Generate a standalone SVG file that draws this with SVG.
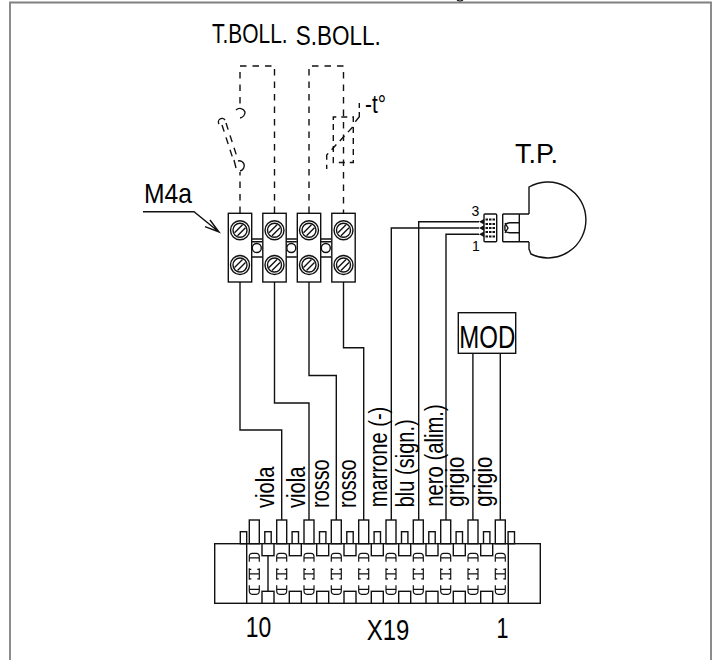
<svg xmlns="http://www.w3.org/2000/svg" width="720" height="660" viewBox="0 0 720 660">
<style>
.l{fill:none;stroke:#111;stroke-width:1.4}
.d{fill:none;stroke:#111;stroke-width:1.4;stroke-dasharray:6.5 6}
.b{fill:#fff;stroke:#111;stroke-width:1.4}
.thin{fill:none;stroke:#111;stroke-width:1.2}
text{font-family:"Liberation Sans",Arial,sans-serif;fill:#000;font-size:28px}
.w{font-size:25px}
.s{font-size:14px}
</style>
<defs>
<g id="screw"><circle r="9.5" class="b"/><circle r="7" class="l"/><path class="l" d="M-5.5,2.5 L2.5,-5.5 M-2.5,5.5 L5.5,-2.5"/></g>
<g id="block"><rect x="-11.7" y="-17" width="23.4" height="68.7" class="b"/><use href="#screw"/><use href="#screw" y="34.7"/></g>
<g id="bridge"><path class="l" d="M-5.5,-4.5 H5.5 M-5.5,-1.8 H5.5 M-5.5,13.5 H5.5"/><circle cy="4.5" r="4.5" class="b"/></g>
<g id="contact"><path class="thin" d="M-5,8.5 V3 Q-5,0 -2,0 H2 Q5,0 5,3 V8.5 M-5,4.5 H5"/><path class="thin" d="M-5,15 V26.5 M5,15 V26.5 M-5,20.5 H5 M-5,16 H-3 M-5,25.5 H-3 M3,16 H5 M3,25.5 H5"/><path class="thin" d="M-5,32 V37.5 Q-5,41 -2,41 H2 Q5,41 5,37.5 V32 M-5,36 H5"/></g>
<rect id="pin" x="-5" y="-23.7" width="10" height="23.7" class="b"/>
<rect id="pinS" x="-3.2" y="-12" width="6.4" height="12" class="b"/>
<rect id="notch" x="-6" width="12" height="12" class="b"/>
</defs>
<rect width="720" height="660" fill="#fff"/>
<path d="M10,660 V2.5 H711 V660" fill="none" stroke="#808080" stroke-width="1.8"/>
<path d="M457,0 Q460,2 463,0" fill="none" stroke="#111" stroke-width="1.2"/>

<g id="connectors">
<path class="l" d="M240,282 V430 H281.7 V520"/>
<path class="l" d="M274.5,282 V403 H309 V520"/>
<path class="l" d="M309,282 V375.5 H336.3 V520"/>
<path class="l" d="M343.5,282 V347.7 H363.7 V520"/>
<path class="l" d="M391.3,520 V228 H479"/>
<path class="l" d="M418.7,520 V221.7 H479"/>
<path class="l" d="M446,520 V234.3 H479"/>
<path class="l" d="M472.9,520 V353.3"/>
<path class="l" d="M500.3,520 V353.3"/>
<path class="d" d="M240,213 V172 M274.5,213 V66 H240 V108"/>
<path class="d" d="M309,213 V66 H343.5 V213"/>
<path class="l" d="M143,211.7 H194 L219,232 M205,226.7 L219,232 L210,220"/>
</g>

<g id="t-boll">
<text transform="translate(212,43) scale(0.748,1)">T.BOLL.</text>
<path class="l" d="M236,110 A5.5,5.5 0 0 1 245,112 A6,6 0 0 1 240,118"/>
<path class="l" d="M240,171 A5.5,5.5 0 0 0 244,164 A5,5 0 0 0 238,161"/>
<path class="d" d="M222,125 L234,162 M226,123 L238,160" style="stroke-dasharray:7 6"/>
<path class="l" d="M219,124 A3,3 0 0 1 225,120 M234,160 L236,168"/>
</g>

<g id="s-boll">
<text transform="translate(295.7,45) scale(0.803,1)">S.BOLL.</text>
<path class="d" d="M333.3,120 V117 H353.3 V162.5 H333.3 V120" style="stroke-dasharray:6 5"/>
<path class="d" d="M352.7,127 L326.7,155 V169" style="stroke-dasharray:7 5"/>
<path class="l" d="M355.3,121.7 L359.3,116.7 V112 M359.3,108 V103"/>
<text x="365" y="113" textLength="21" lengthAdjust="spacingAndGlyphs" style="font-size:26px">-t°</text>
</g>

<g id="m4a">
<text x="144" y="203" textLength="48" lengthAdjust="spacingAndGlyphs">M4a</text>
<use href="#bridge" x="256.8" y="243.5"/>
<use href="#bridge" x="291.3" y="243.5"/>
<use href="#bridge" x="325.8" y="243.5"/>
<use href="#block" x="240" y="230.3"/>
<use href="#block" x="274.5" y="230.3"/>
<use href="#block" x="309" y="230.3"/>
<use href="#block" x="343.5" y="230.3"/>
</g>

<g id="tp">
<text x="515" y="163" textLength="43" lengthAdjust="spacingAndGlyphs">T.P.</text>
<path class="l" d="M529,214 V187 A38,38 0 1 1 531,254 L529,249 V242"/>
<path class="l" d="M502.7,214 H529 M502.7,241.7 H529 M502.7,214 V241.7 M519.3,214 V241.7"/>
<path class="l" d="M519.3,222.7 H510 Q504,223 505,228 Q504,232.5 510,232.7 H519.3 M505,223 L508,228 L505,233"/>
<rect class="b" x="484" y="214" width="12.7" height="27.7" rx="1"/>
<path d="M479,221.7 L484,219 V224.5 Z M479,228 L484,225.3 V230.7 Z M479,234.3 L484,231.6 V237 Z" fill="#111"/>
<path d="M485.5,219.5 H495 M485.5,224 H495 M485.5,228 H495 M485.5,232 H495 M485.5,236.5 H495" stroke="#111" stroke-width="2" stroke-dasharray="2.5 1" fill="none"/>
<text class="s" x="471.5" y="216">3</text>
<text class="s" x="472" y="251">1</text>
</g>

<g id="mod">
<rect class="b" x="458.3" y="312.7" width="57.4" height="40.6"/>
<text transform="translate(459.3,348.3) scale(0.75,1)" style="font-size:32px">MOD</text>
</g>

<g id="x19">
<use href="#pinS" x="243.5" y="543.7"/>
<use href="#pinS" x="268" y="543.7"/><use href="#pinS" x="295.3" y="543.7"/><use href="#pinS" x="322.7" y="543.7"/><use href="#pinS" x="350" y="543.7"/><use href="#pinS" x="377.3" y="543.7"/><use href="#pinS" x="404.7" y="543.7"/><use href="#pinS" x="432" y="543.7"/><use href="#pinS" x="459.3" y="543.7"/><use href="#pinS" x="486.7" y="543.7"/><use href="#pinS" x="511.3" y="543.7"/>
<use href="#pin" x="254.3" y="543.7"/><use href="#pin" x="281.7" y="543.7"/><use href="#pin" x="309" y="543.7"/><use href="#pin" x="336.3" y="543.7"/><use href="#pin" x="363.7" y="543.7"/><use href="#pin" x="391" y="543.7"/><use href="#pin" x="418.3" y="543.7"/><use href="#pin" x="445.7" y="543.7"/><use href="#pin" x="473" y="543.7"/><use href="#pin" x="500.3" y="543.7"/>
<rect class="l" x="214.7" y="543.7" width="325.6" height="59.6"/>
<path class="l" d="M246.7,543.7 V603.3 M508.3,543.7 V603.3 M268,555.7 V591.3"/>
<use href="#notch" x="268" y="543.7"/><use href="#notch" x="295.3" y="543.7"/><use href="#notch" x="322.7" y="543.7"/><use href="#notch" x="350" y="543.7"/><use href="#notch" x="377.3" y="543.7"/><use href="#notch" x="404.7" y="543.7"/><use href="#notch" x="432" y="543.7"/><use href="#notch" x="459.3" y="543.7"/><use href="#notch" x="486.7" y="543.7"/>
<use href="#notch" x="268" y="591.3"/><use href="#notch" x="295.3" y="591.3"/><use href="#notch" x="322.7" y="591.3"/><use href="#notch" x="350" y="591.3"/><use href="#notch" x="377.3" y="591.3"/><use href="#notch" x="404.7" y="591.3"/><use href="#notch" x="432" y="591.3"/><use href="#notch" x="459.3" y="591.3"/><use href="#notch" x="486.7" y="591.3"/>
<use href="#contact" x="254.3" y="553.3"/><use href="#contact" x="281.7" y="553.3"/><use href="#contact" x="309" y="553.3"/><use href="#contact" x="336.3" y="553.3"/><use href="#contact" x="363.7" y="553.3"/><use href="#contact" x="391" y="553.3"/><use href="#contact" x="418.3" y="553.3"/><use href="#contact" x="445.7" y="553.3"/><use href="#contact" x="473" y="553.3"/><use href="#contact" x="500.3" y="553.3"/>
<text x="245.7" y="637.3" textLength="25.5" lengthAdjust="spacingAndGlyphs" style="font-size:30px">10</text>
<text x="366.7" y="640" textLength="42.6" lengthAdjust="spacingAndGlyphs" style="font-size:30px">X19</text>
<text x="496.5" y="638" textLength="12" lengthAdjust="spacingAndGlyphs" style="font-size:30px">1</text>
</g>

<g id="wire-labels">
<text class="w" transform="translate(274.3,508) rotate(-90)" textLength="41.5" lengthAdjust="spacingAndGlyphs">viola</text>
<text class="w" transform="translate(305,508) rotate(-90)" textLength="41.5" lengthAdjust="spacingAndGlyphs">viola</text>
<text class="w" transform="translate(329,508) rotate(-90)" textLength="48.7" lengthAdjust="spacingAndGlyphs">rosso</text>
<text class="w" transform="translate(356,508) rotate(-90)" textLength="48.7" lengthAdjust="spacingAndGlyphs">rosso</text>
<text class="w" transform="translate(386.7,507.3) rotate(-90)" textLength="100.6" lengthAdjust="spacingAndGlyphs">marrone (-)</text>
<text class="w" transform="translate(414,507.3) rotate(-90)" textLength="88" lengthAdjust="spacingAndGlyphs">blu (sign.)</text>
<text class="w" transform="translate(443.3,506.7) rotate(-90)" textLength="102.4" lengthAdjust="spacingAndGlyphs">nero (alim.)</text>
<text class="w" transform="translate(464.3,506.7) rotate(-90)" textLength="50" lengthAdjust="spacingAndGlyphs">grigio</text>
<text class="w" transform="translate(491.7,506.7) rotate(-90)" textLength="50" lengthAdjust="spacingAndGlyphs">grigio</text>
</g>
</svg>
